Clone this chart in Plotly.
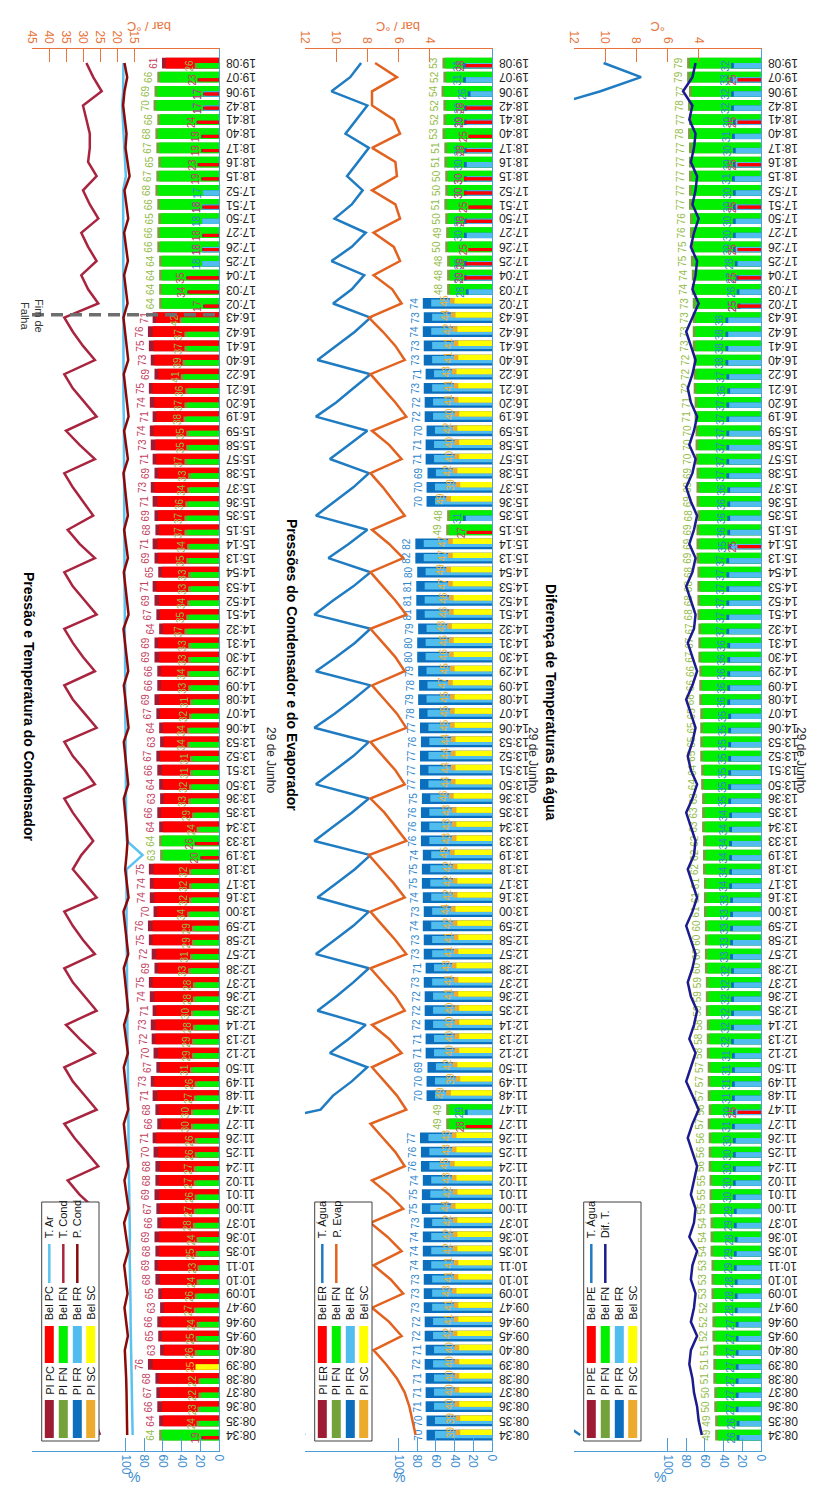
import plotly.graph_objects as go

# page body has an 8px margin: figure is sized to fit the 818x1499 window exactly
PAGE_W, PAGE_H, BODY_M = 818, 1499, 8
W, H = PAGE_W - 2 * BODY_M, PAGE_H - 2 * BODY_M

times = ["08:34","08:35","08:36","08:37","08:38","08:39","08:40","09:45","09:46","09:47",
         "10:09","10:10","10:11","10:35","10:36","10:37","11:00","11:01","11:02","11:24",
         "11:25","11:26","11:27","11:47","11:48","11:49","11:50","12:12","12:13","12:14",
         "12:35","12:36","12:37","12:38","12:57","12:58","12:59","13:00","13:16","13:17",
         "13:18","13:19","13:33","13:34","13:35","13:36","13:50","13:51","13:52","13:53",
         "14:06","14:07","14:08","14:09","14:29","14:30","14:31","14:32","14:51","14:52",
         "14:53","14:54","15:13","15:14","15:15","15:35","15:36","15:37","15:38","15:57",
         "15:58","15:59","16:19","16:20","16:21","16:22","16:40","16:41","16:42","16:43",
         "17:02","17:03","17:04","17:25","17:26","17:27","17:50","17:51","17:52","18:15",
         "18:16","18:17","18:40","18:41","18:42","19:06","19:07","19:08"]

# ---------------- Panel 1: Condensador ----------------
p1_pi_pc = [19,64,66,67,68,76,63,65,66,63, 65,68,69,68,69,66,67,69,68,68,
            70,71,66,68,71,73,67,70,72,73, 71,74,75,69,72,75,76,70,74,74,
            75,20,26,64,66,63,64,66,67,63, 64,67,69,66,66,69,69,64,67,69,
            71,65,69,71,68,69,71,73,69,71, 73,74,71,74,75,69,73,75,76,71,
            17,34,35,0,18,18,0,18,0,19, 23,19,19,24,17,17,23,61]
p1_bel_pc = [17,60,61,63,64,71,59,61,62,59, 61,63,65,64,64,62,63,64,64,63,
             65,67,62,64,66,69,63,65,68,68, 67,69,71,65,67,71,71,66,69,70,
             70,18,24,60,62,59,60,61,63,59, 60,63,64,62,62,64,65,60,63,64,
             67,61,65,66,64,65,66,69,65,67, 68,70,67,69,71,65,69,70,71,67,
             15,32,33,0,16,16,0,16,0,17, 21,17,17,22,15,15,21,57]
p1_pi_fn = [64,24,23,22,22,0,26,25,24,27, 26,24,23,25,24,28,27,26,27,27,
            26,26,30,30,27,26,31,29,29,28, 30,28,28,33,31,29,29,34,32,32,
            32,63,64,24,29,33,32,31,31,34, 34,32,31,33,34,33,33,37,35,34,
            33,33,35,34,37,37,36,34,33,37, 35,35,38,37,36,41,39,37,37,42,
            64,64,64,64,66,66,65,66,68,67, 65,67,68,66,70,69,66,26]
p1_bel_fn = [61,21,20,19,20,0,23,22,21,24, 23,21,20,22,21,25,24,23,24,24,
             23,23,27,27,24,23,28,26,26,25, 27,25,25,30,28,26,26,31,29,29,
             29,60,61,21,26,30,29,28,28,31, 31,29,28,30,31,30,30,34,32,31,
             30,30,32,31,34,34,33,31,30,34, 32,32,35,34,33,38,36,34,34,39,
             61,61,61,61,63,63,62,63,65,64, 62,64,65,63,67,66,63,23]
p1_fr = {"17:25": 18, "17:26": 18, "17:50": 18, "17:51": 18, "17:52": 17, "18:42": 17, "19:06": 17}
p1_sc = {"08:39": 25}

p1_tar = [15.4,15.5,15.5,15.6,15.7,15.7,15.8,15.9,16.0,16.0, 16.1,16.1,16.2,16.3,16.2,16.3,16.4,16.4,16.5,16.5,
          16.6,16.6,16.6,16.7,16.7,16.8,16.8,16.9,16.9,16.9, 17.0,17.0,17.1,17.0,17.1,17.2,17.1,17.2,17.2,17.3,
          17.2,12.5,17.1,17.3,17.3,17.4,17.4,17.4,17.5,17.5, 17.5,17.6,17.5,17.6,17.6,17.7,17.6,17.7,17.7,17.8,
          17.7,17.8,17.8,17.8,17.9,17.8,17.9,17.9,18.0,17.9, 18.0,18.0,18.0,18.1,18.0,18.1,18.1,18.0,18.1,18.1,
          18.1,18.2,18.1,18.2,18.1,18.2,18.2,18.1,18.2,17.4, 17.6,17.9,18.1,18.3,18.5,18.2,18.1,18.1]
p1_tcond = [25.0,26.5,28.0,29.5,31.0,33.0,34.5,26.0,30.0,34.0, 26.5,30.5,34.5,26.0,30.5,35.0,26.5,31.0,34.5,25.5,
            29.0,32.5,35.5,26.0,29.5,33.0,35.5,26.5,31.0,35.0, 26.0,29.5,33.0,35.5,26.5,30.0,33.0,35.5,26.0,29.5,
            33.0,30.5,27.0,30.0,33.0,35.5,26.5,29.5,33.0,35.5, 26.0,29.5,33.0,35.5,26.5,30.0,33.0,35.5,26.0,29.5,
            33.0,35.5,26.5,31.0,34.5,27.0,30.0,33.0,35.5,26.5, 31.0,35.0,26.0,29.5,33.0,35.5,26.5,30.0,33.0,35.5,
            25.5,28.5,30.5,26.0,28.5,30.5,25.5,28.0,30.0,26.0, 28.5,28.0,28.0,29.0,30.0,24.5,27.0,29.0]
p1_pcond = [17.0,17.0,17.1,17.2,17.3,17.5,17.7,16.8,17.3,17.8, 16.9,17.4,17.9,16.7,17.3,17.9,16.6,17.2,17.8,16.7,
            17.1,17.6,18.0,16.7,17.2,17.6,18.0,16.8,17.3,17.9, 16.7,17.2,17.6,18.0,16.7,17.1,17.6,18.1,16.6,17.1,
            17.6,17.2,16.9,17.2,17.6,18.0,16.7,17.2,17.6,18.0, 16.6,17.1,17.6,18.0,16.7,17.2,17.6,18.1,16.6,17.1,
            17.6,18.0,16.8,17.4,17.9,16.8,17.2,17.6,18.1,16.8, 17.3,17.9,16.6,17.1,17.6,18.0,16.7,17.2,17.6,18.1,
            16.9,17.5,17.9,16.8,17.4,17.9,16.7,17.3,17.8,16.3, 17.0,17.5,17.2,17.7,18.2,17.8,17.0,17.8]

# ---------------- Panel 2: Condensador e Evaporador ----------------
p2_pi_fr = [70,70,71,71,71,72,71,72,72,73, 73,73,74,74,74,73,75,75,74,76,
            76,77,0,29,70,70,69,71,71,72, 72,72,73,71,73,73,74,73,74,75,
            75,74,76,76,76,75,77,77,77,76, 77,78,79,78,79,80,80,79,81,81,
            81,80,82,82,0,31,70,70,69,71, 71,70,72,72,73,71,73,73,74,73,
            74,28,30,30,0,30,30,0,30,30, 30,30,0,30,30,26,31,31]
p2_bel_fr = [61,61,62,62,62,63,62,63,63,64, 64,64,65,65,65,64,66,66,65,67,
             67,68,0,26,61,61,60,62,62,63, 63,63,64,62,64,64,65,64,65,66,
             66,65,67,67,67,66,68,68,68,67, 68,69,70,69,70,71,71,70,72,72,
             72,71,73,73,0,28,61,61,60,62, 62,61,63,63,64,62,64,64,65,64,
             65,25,27,27,0,27,27,0,27,27, 27,27,0,27,27,23,28,28]
p2_pi_sc = [39,39,40,40,40,40,40,42,41,41, 43,41,41,42,42,42,44,42,43,45,
            43,43,0,0,49,39,42,40,40,40, 40,41,41,43,41,41,42,44,42,42,
            42,45,43,43,43,46,44,44,44,44, 45,45,45,47,45,46,46,48,46,46,
            47,49,47,47,0,0,49,39,42,40, 40,42,40,41,41,43,41,41,42,44,
            45,0,0,0,0,0,0,0,0,0, 0,0,0,0,0,0,0,0]
p2_bel_sc = [34,34,35,35,35,35,35,37,36,36, 38,36,36,37,37,37,39,37,38,40,
             38,38,0,0,44,34,37,35,35,35, 35,36,36,38,36,36,37,39,37,37,
             37,40,38,38,38,41,39,39,39,39, 40,40,40,42,40,41,41,43,41,41,
             42,44,42,42,0,0,44,34,37,35, 35,37,35,36,36,38,36,36,37,39,
             40,0,0,0,0,0,0,0,0,0, 0,0,0,0,0,0,0,0]
p2_fn = {"11:27": 49, "11:47": 49, "15:15": 49, "15:35": 48, "17:03": 48, "17:04": 48, "17:25": 48,
         "17:26": 50, "17:27": 49, "17:50": 50, "17:51": 51, "17:52": 50, "18:15": 50, "18:16": 51,
         "18:17": 51, "18:40": 53, "18:41": 52, "18:42": 52, "19:06": 54, "19:07": 52, "19:08": 53}
p2_fn_bel = {"11:27": 46, "11:47": 46, "15:15": 46, "15:35": 45, "17:03": 45, "17:04": 45, "17:25": 45,
             "17:26": 47, "17:27": 46, "17:50": 47, "17:51": 48, "17:52": 47, "18:15": 47, "18:16": 48,
             "18:17": 48, "18:40": 50, "18:41": 49, "18:42": 49, "19:06": 51, "19:07": 49, "19:08": 50}
p2_er = {"11:27": 28, "15:15": 27, "17:04": 29, "17:25": 28, "17:26": 25, "17:50": 28, "17:51": 25,
         "17:52": 30, "18:15": 30, "18:17": 28, "18:40": 25, "18:41": 29, "18:42": 28, "19:08": 28}

p2_tagua = [12.0,13.2,14.0,14.5,14.8,15.0,15.2,14.6,14.8,15.0, 14.7,14.9,15.1,14.8,15.0,15.2,14.8,15.0,15.1,14.7,
            14.9,15.1,15.3,11.0,10.2,9.0,8.0,10.4,9.2,8.1, 11.2,10.0,8.9,7.9,11.3,10.1,8.9,7.9,11.2,10.0,
            8.8,7.8,11.4,10.2,9.0,7.9,11.3,10.1,8.9,7.9, 11.4,10.1,8.9,7.8,11.3,10.0,8.8,7.8,11.4,10.2,
            8.9,7.8,10.5,9.2,8.0,11.3,10.1,8.9,7.9,10.4, 9.2,8.0,11.3,10.0,8.9,7.8,11.2,10.0,8.8,7.8,
            10.2,9.0,8.2,10.3,9.0,8.1,10.1,9.0,8.3,9.3, 8.6,7.9,9.4,8.7,8.0,10.3,9.1,8.4]
p2_pevap = [4.9,5.1,5.3,5.6,6.1,6.8,7.6,5.8,6.6,7.7, 5.7,6.5,7.6,5.8,6.7,7.8,5.7,6.6,7.7,5.6,
            6.2,7.0,7.8,5.5,6.1,6.9,7.7,5.8,6.6,7.7, 5.6,6.2,7.0,7.8,5.5,6.2,7.0,7.8,5.6,6.3,
            7.1,7.9,5.5,6.2,6.9,7.8,5.6,6.2,7.0,7.8, 5.5,6.1,6.9,7.7,5.6,6.2,7.0,7.8,5.5,6.2,
            7.0,7.8,5.7,6.6,7.7,5.6,6.3,7.0,7.8,5.8, 6.6,7.7,5.5,6.2,7.0,7.8,5.6,6.2,7.0,7.9,
            5.8,6.4,7.6,5.9,6.3,7.6,5.9,6.2,7.7,6.1, 6.2,7.7,5.9,6.3,7.7,7.7,6.1,7.5]

# ---------------- Panel 3: Diferença de temperaturas ----------------
p3_pi_fn = [49,49,50,50,51,51,51,52,52,52, 53,53,53,54,54,54,55,55,55,56,
            56,56,57,56,57,57,57,58,58,58, 59,59,59,60,60,60,60,61,61,61,
            62,62,62,63,63,63,64,64,65,65, 65,65,66,66,66,67,67,67,68,68,
            68,68,69,69,69,68,69,69,69,70, 70,70,71,71,72,72,72,73,73,73,
            73,74,74,75,75,76,76,77,77,77, 77,77,78,77,78,77,79,79]
p3_bel_fn = [46,46,47,47,48,48,48,49,49,49, 50,50,50,51,51,51,52,52,52,53,
             53,53,54,53,54,54,54,55,55,55, 56,56,56,57,57,57,57,58,58,58,
             59,59,59,60,60,60,61,61,62,62, 62,62,63,63,63,64,64,64,65,65,
             65,65,66,66,66,65,66,66,66,67, 67,67,68,68,69,69,69,70,70,70,
             70,71,71,72,72,73,73,74,74,74, 74,74,75,74,75,74,76,76]
p3_pi_fr = [26,26,27,27,27,27,27,27,27,28, 28,28,29,29,28,29,29,30,30,30,
            30,30,31,30,31,31,31,31,32,32, 32,32,32,32,33,33,33,33,33,34,
            34,34,34,34,34,35,35,35,35,35, 35,35,36,36,36,36,36,37,37,37,
            37,37,37,35,36,36,36,36,37,37, 37,37,37,37,36,37,38,38,38,38,
            25,26,27,28,30,30,30,30,30,31, 30,30,31,30,32,32,33,32]
p3_bel_fr = [23,23,24,24,24,24,24,24,24,25, 25,25,26,26,25,26,26,27,27,27,
             27,27,28,27,28,28,28,28,29,29, 29,29,29,29,30,30,30,30,30,31,
             31,31,31,31,31,32,32,32,32,32, 32,32,33,33,33,33,33,34,34,34,
             34,34,34,32,33,33,33,33,34,34, 34,34,34,34,33,34,35,35,35,35,
             22,23,24,25,27,27,27,27,27,28, 27,27,28,27,29,29,30,29]
p3_pe = {"11:47": 25, "15:14": 25, "17:02": 25, "17:04": 25, "17:26": 25, "17:51": 25,
         "18:16": 25, "18:41": 25, "19:07": 25}
p3_tagua = [11.6,12.9,14.2,14.6,14.9,15.1,15.0,14.8,15.0,15.2, 14.9,15.1,15.2,14.9,15.1,15.3,15.0,15.2,15.3,15.0,
            15.1,15.3,15.2,15.0,15.2,15.3,15.1,15.0,15.2,15.3, 15.1,15.2,15.3,15.0,15.1,15.3,15.2,15.0,15.2,15.3,
            15.1,15.2,15.3,15.0,15.2,15.3,15.1,15.0,15.2,15.3, 15.1,15.2,15.3,15.0,15.2,15.3,15.1,15.0,15.2,15.3,
            15.1,15.2,15.3,15.0,15.2,15.3,15.1,15.0,15.2,15.3, 15.1,15.2,15.3,15.0,15.2,15.3,15.1,15.0,15.2,15.3,
            15.0,15.1,15.2,15.0,15.1,15.2,15.0,15.1,15.2,14.9, 15.0,15.1,14.6,14.4,13.4,10.3,7.7,10.1]
p3_dift = [3.8,4.0,4.1,4.3,4.4,4.6,4.5,4.1,4.5,4.3, 4.2,4.5,4.4,4.1,4.6,4.3,4.2,4.5,4.3,4.1,
           4.4,4.7,4.4,4.0,4.4,4.8,4.5,4.2,4.6,4.3, 4.1,4.5,4.7,4.4,4.2,4.5,4.8,4.4,4.1,4.4,
           4.7,4.3,4.2,4.5,4.8,4.4,4.1,4.5,4.7,4.4, 4.2,4.5,4.8,4.4,4.1,4.4,4.7,4.3,4.2,4.5,
           4.8,4.4,4.2,4.6,4.3,4.1,4.5,4.8,4.4,4.2, 4.6,4.3,4.1,4.5,4.7,4.4,4.2,4.5,4.8,4.4,
           4.0,4.4,4.2,4.1,4.5,4.3,4.0,4.4,4.2,4.1, 4.5,4.3,4.2,4.6,4.4,5.0,4.4,4.2]

pct_ticks = [0, 20, 40, 60, 80, 100]


def from_dict(d):
    return [d.get(t, 0) for t in times]


# ---------------- styling (positions given in window pixels) ----------------
def PX(x):
    return (x - BODY_M) / W


def PY(y):
    return 1 - (y - BODY_M) / H


PLOT_TOP, PLOT_BOT = 49, 1451
PW = 187
BASES = [219, 492, 761]
DATE_X = [262, 533, None]   # panel 3 date label is pinned to the right page edge
BLUE_AX = "#4E9ED9"
BLUE_TX = "#3A8DD0"
ORANGE = "#E8743B"
FONT = "Liberation Sans, Arial, sans-serif"

PI_COL = {"PC": "#9E1B34", "FN": "#74A23A", "FR": "#0B6FBE", "SC": "#ECAB2C"}
BEL_COL = {"PC": "#FF0000", "FN": "#00F000", "FR": "#50BDEE", "SC": "#FFFF00"}
LBL_COL = {"PC": "#C2405E", "FN": "#93BB49", "FR": "#2F86CC", "SC": "#F0B232"}

FULL = (-0.38, 0.76)
LOW = (-0.38, 0.38)
UP = (0.0, 0.38)
RED_SMALL = (-0.30, 0.22)

panels = [
    dict(title="Pressão e Temperatura do Condensador", title_y=706,
         sec_range=[45, -10], sec_ticks=[15, 20, 25, 30, 35, 40, 45], sec_title="bar / °C",
         series=[("PC", p1_pi_pc, p1_bel_pc), ("FN", p1_pi_fn, p1_bel_fn),
                 ("FR", from_dict(p1_fr), from_dict(p1_fr)), ("SC", from_dict(p1_sc), from_dict(p1_sc))],
         half={"PC": RED_SMALL}, bel_full={},
         lines=[("T. Ar", p1_tar, "#5CC2EF"), ("T. Cond", p1_tcond, "#A8243F"), ("P. Cond", p1_pcond, "#8A0A0A")],
         leg_pi=["PI PC", "PI FN", "PI FR", "PI SC"], leg_bel=["Bel PC", "Bel FN", "Bel FR", "Bel SC"]),
    dict(title="Pressões do Condensador e do Evaporador", title_y=665,
         sec_range=[12, 0], sec_ticks=[4, 6, 8, 10, 12], sec_title="bar / °C",
         series=[("PC", from_dict(p2_er), from_dict(p2_er)), ("FN", from_dict(p2_fn), from_dict(p2_fn_bel)),
                 ("FR", p2_pi_fr, p2_bel_fr), ("SC", p2_pi_sc, p2_bel_sc)],
         half={"SC": UP, "PC": RED_SMALL}, bel_full={"FR": (-0.22, 0.50)},
         lines=[("T. Água", p2_tagua, "#1F7CC2"), ("P. Evap", p2_pevap, "#E2621F")],
         leg_pi=["PI ER", "PI FN", "PI FR", "PI SC"], leg_bel=["Bel ER", "Bel FN", "Bel FR", "Bel SC"]),
    dict(title="Diferença de Temperaturas da água", title_y=702,
         sec_range=[12, 0], sec_ticks=[4, 6, 8, 10, 12], sec_title="°C",
         series=[("PC", from_dict(p3_pe), from_dict(p3_pe)), ("FN", p3_pi_fn, p3_bel_fn),
                 ("FR", p3_pi_fr, p3_bel_fr), ("SC", from_dict({}), from_dict({}))],
         half={"PC": RED_SMALL}, bel_full={},
         lines=[("T. Água", p3_tagua, "#1F7CC2"), ("Dif. T.", p3_dift, "#1B1B8E")],
         leg_pi=["PI PE", "PI FN", "PI FR", "PI SC"], leg_bel=["Bel PE", "Bel FN", "Bel FR", "Bel SC"]),
]

fig = go.Figure()
annotations = []
shapes = []
lay = {}
n = len(times)


def axname(prefix, i):
    return prefix + ("" if i == 1 else str(i))


for k, P in enumerate(panels):
    base = BASES[k]
    left = base - PW
    xi, xj, yi = 2 * k + 1, 2 * k + 2, k + 1
    xa, xb, ya = axname("x", xi), axname("x", xj), axname("y", yi)

    lay[axname("xaxis", xi)] = dict(
        domain=[PX(left), PX(base)], range=[200, 0], anchor=ya, side="bottom",
        tickvals=pct_ticks, ticks="inside", ticklen=13, tickcolor=BLUE_AX, tickwidth=1,
        showline=True, linecolor=BLUE_AX, linewidth=1, tickangle=90,
        tickfont=dict(color=BLUE_TX, size=12), showgrid=False, zeroline=False, automargin=False)
    lay[axname("xaxis", xj)] = dict(
        overlaying=xa, anchor=ya, side="top", range=P["sec_range"], tickvals=P["sec_ticks"],
        ticks="inside", ticklen=13, tickcolor=ORANGE, tickwidth=1, showline=True, linecolor=ORANGE,
        linewidth=1, tickangle=90, tickfont=dict(color=ORANGE, size=12), showgrid=False,
        zeroline=False, automargin=False)
    lay[axname("yaxis", yi)] = dict(
        domain=[PY(PLOT_BOT), PY(PLOT_TOP)], anchor=xa, side="right", type="category",
        categoryorder="array", categoryarray=times, range=[-1.13, 97.99], showline=True,
        linecolor=BLUE_AX, linewidth=1, showticklabels=False, ticks="", showgrid=False,
        zeroline=False, automargin=False)

    ser = P["series"]
    main = []
    for i in range(n):
        vals = [s[1][i] for s in ser]
        main.append(max(range(len(ser)), key=lambda j: vals[j]))

    def add_pair(key, pi, bel, mask, band, bband):
        if not any(mask):
            return
        xs_pi = [pi[i] if mask[i] else None for i in range(n)]
        xs_bel = [bel[i] if mask[i] else None for i in range(n)]
        txt = [str(pi[i]) if mask[i] else "" for i in range(n)]
        fig.add_trace(go.Bar(
            orientation="h", y=times, x=xs_pi, xaxis=xa, yaxis=ya, offset=band[0], width=band[1],
            marker=dict(color=PI_COL[key], line=dict(width=0)), text=txt, textposition="outside",
            textangle=-90, textfont=dict(color=LBL_COL[key], size=10, family=FONT),
            constraintext="none", cliponaxis=False, hoverinfo="skip", showlegend=False))
        fig.add_trace(go.Bar(
            orientation="h", y=times, x=xs_bel, xaxis=xa, yaxis=ya, offset=bband[0], width=bband[1],
            marker=dict(color=BEL_COL[key], line=dict(width=0)), hoverinfo="skip", showlegend=False))

    for j, (key, pi, bel) in enumerate(ser):
        mask = [main[i] == j and pi[i] > 0 for i in range(n)]
        add_pair(key, pi, bel, mask, FULL, P["bel_full"].get(key, FULL))
    for j in reversed(range(len(ser))):
        key, pi, bel = ser[j]
        mask = [main[i] != j and pi[i] > 0 for i in range(n)]
        band = P["half"].get(key, LOW)
        add_pair(key, pi, bel, mask, band, band)

    for name, vals, col in P["lines"]:
        fig.add_trace(go.Scatter(x=vals, y=times, xaxis=xb, yaxis=ya, mode="lines",
                                 line=dict(color=col, width=2.5), hoverinfo="skip", showlegend=False))

    # time labels (upside down)
    for t in times:
        annotations.append(dict(x=PX(base + 5), xref="paper", y=t, yref=ya, text=t, showarrow=False,
                                textangle=180, xanchor="left", yanchor="middle",
                                font=dict(size=12, color="#1e1e1e", family=FONT)))
    # titles / axis titles
    annotations.append(dict(x=PX(left - 13), y=PY(P["title_y"]), xref="paper", yref="paper",
                            text="<b>" + P["title"] + "</b>", showarrow=False, textangle=90,
                            font=dict(size=14, color="#000000", family=FONT)))
    annotations.append(dict(x=PX(left + PW / 2), y=PY(1487), xref="paper", yref="paper", text="%",
                            showarrow=False, font=dict(size=14, color=BLUE_TX, family=FONT)))
    annotations.append(dict(x=PX(left + PW / 2), y=PY(17), xref="paper", yref="paper",
                            text=P["sec_title"], showarrow=False, textangle=180,
                            font=dict(size=13, color=ORANGE, family=FONT)))
    if DATE_X[k] is None:
        annotations.append(dict(x=1.0, y=PY(760), xref="paper", yref="paper", xanchor="right",
                                text="29 de Junho", showarrow=False, textangle=90,
                                font=dict(size=12, color="#262626", family=FONT)))
    else:
        annotations.append(dict(x=PX(DATE_X[k]), y=PY(760), xref="paper", yref="paper",
                                text="29 de Junho", showarrow=False, textangle=90,
                                font=dict(size=12, color="#262626", family=FONT)))

    # custom rotated legend
    lx0, lx1 = left + 9.7, left + 67
    ltop, lbot = 1202, 1441
    shapes.append(dict(type="rect", xref="paper", yref="paper", x0=PX(lx0), x1=PX(lx1),
                       y0=PY(lbot), y1=PY(ltop), fillcolor="white",
                       line=dict(color="#404040", width=1), layer="above"))
    cols = [left + 17.3, left + 31.3, left + 45.3, left + 58.7]
    keys = ["PC", "FN", "FR", "SC"]
    for r in range(4):
        xc = cols[r]
        shapes.append(dict(type="rect", xref="paper", yref="paper", x0=PX(xc - 4.5), x1=PX(xc + 4.5),
                           y0=PY(1438), y1=PY(1400), fillcolor=PI_COL[keys[r]], line=dict(width=0),
                           layer="above"))
        shapes.append(dict(type="rect", xref="paper", yref="paper", x0=PX(xc - 4.5), x1=PX(xc + 4.5),
                           y0=PY(1363), y1=PY(1326), fillcolor=BEL_COL[keys[r]], line=dict(width=0),
                           layer="above"))
        annotations.append(dict(x=PX(xc), y=PY(1397), xref="paper", yref="paper", text=P["leg_pi"][r],
                                showarrow=False, textangle=-90, xanchor="center", yanchor="bottom",
                                font=dict(size=11, color="#111111", family=FONT)))
        annotations.append(dict(x=PX(xc), y=PY(1322), xref="paper", yref="paper", text=P["leg_bel"][r],
                                showarrow=False, textangle=-90, xanchor="center", yanchor="bottom",
                                font=dict(size=11, color="#111111", family=FONT)))
    for r, (name, vals, col) in enumerate(P["lines"]):
        xc = cols[r]
        shapes.append(dict(type="line", xref="paper", yref="paper", x0=PX(xc), x1=PX(xc),
                           y0=PY(1283), y1=PY(1244), line=dict(color=col, width=2.5), layer="above"))
        annotations.append(dict(x=PX(xc), y=PY(1240), xref="paper", yref="paper", text=name,
                                showarrow=False, textangle=-90, xanchor="center", yanchor="bottom",
                                font=dict(size=11, color="#111111", family=FONT)))

# "Fim de Falha" marker in panel 1
shapes.append(dict(type="line", xref="paper", yref="y", x0=PX(32), x1=PX(219),
                   y0=times.index("16:43") + 0.2, y1=times.index("16:43") + 0.2,
                   line=dict(color="#6E6E6E", width=3.5, dash="12px,7px"), layer="above"))
annotations.append(dict(x=PX(17), y=PY(297), xref="paper", yref="paper", text="Fim de<br>Falha",
                        showarrow=False, textangle=90, font=dict(size=11, color="#333333", family=FONT)))

lay.update(dict(width=W, height=H, margin=dict(l=0, r=0, t=0, b=0), barmode="overlay",
                paper_bgcolor="white", plot_bgcolor="white", showlegend=False,
                font=dict(family=FONT), annotations=annotations, shapes=shapes))
fig.update_layout(**lay)

fig.write_html("out.html")
